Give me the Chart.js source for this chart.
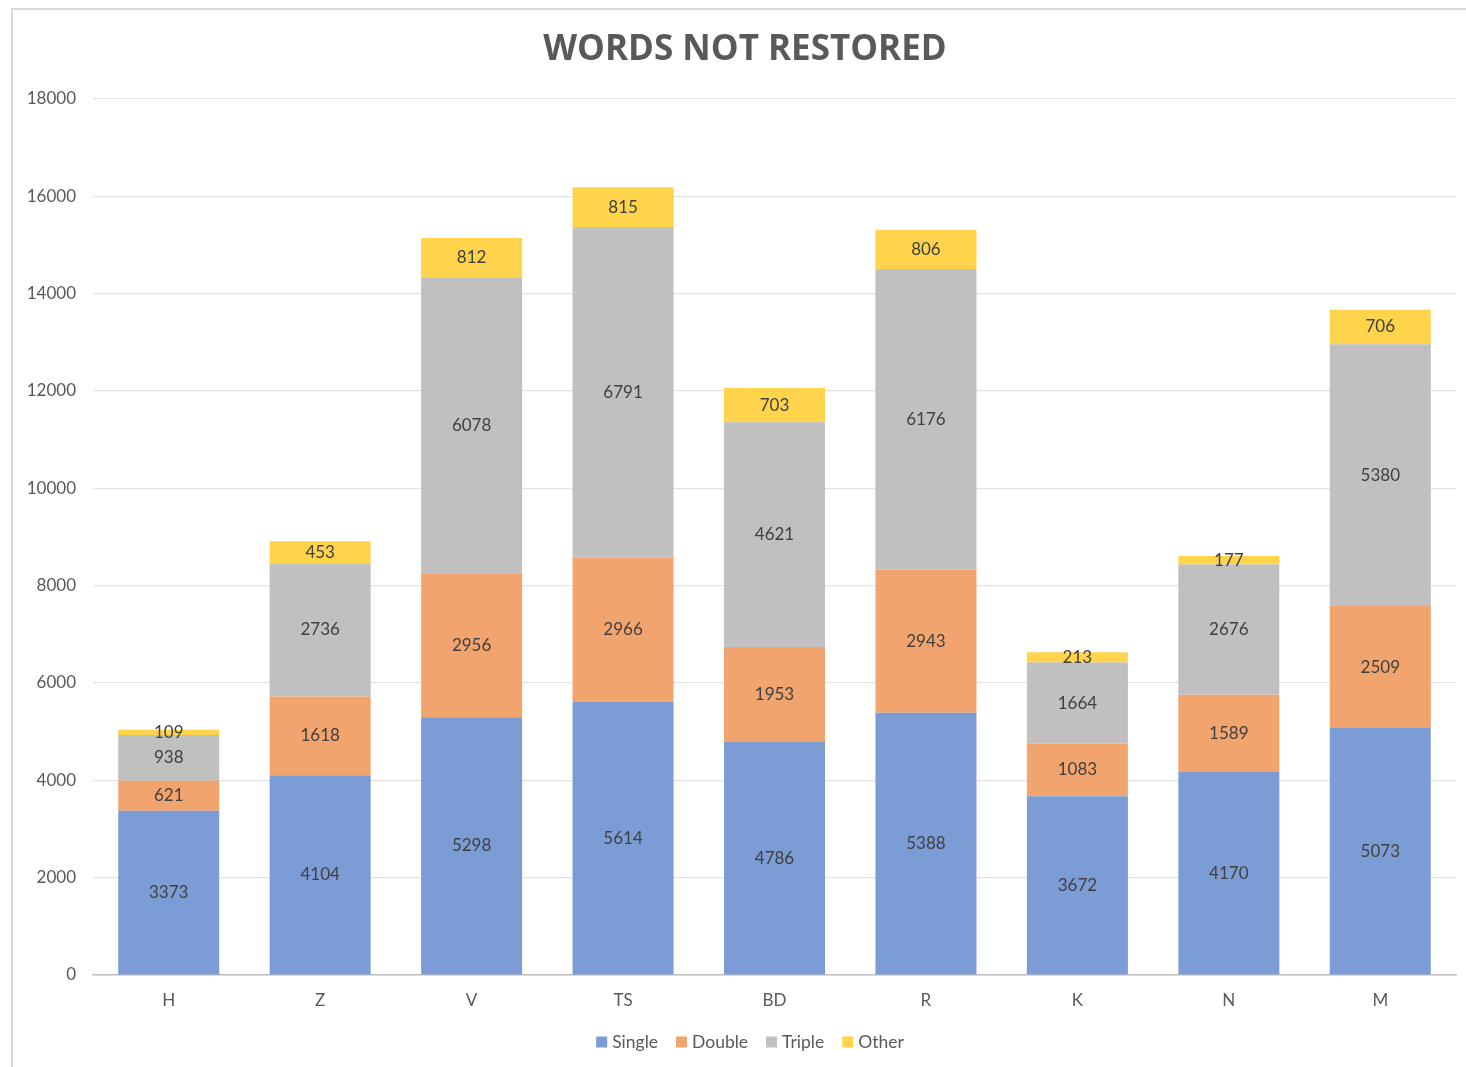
<!DOCTYPE html>
<html>
<head>
<meta charset="utf-8">
<script src="https://cdn.jsdelivr.net/npm/chart.js@4/dist/chart.umd.min.js"></script>
<style>
  html, body { margin: 0; padding: 0; background: #ffffff; overflow: hidden; }
  #wrap { position: relative; width: 1466px; height: 1067px; }
  #frame { position: absolute; left: 11px; top: 8px; width: 1500px; height: 1100px; border: 2px solid #d9d9d9; box-sizing: border-box; pointer-events: none; }
  canvas { position: absolute; left: 0; top: 0; }
</style>
</head>
<body>
<div id="wrap">
  <canvas id="c" width="1466" height="1067"></canvas>
  <div id="frame"></div>
</div>
<script>
const titleText = 'WORDS NOT RESTORED';
const categories = ['H', 'Z', 'V', 'TS', 'BD', 'R', 'K', 'N', 'M'];
const singleVals = [3373, 4104, 5298, 5614, 4786, 5388, 3672, 4170, 5073];
const doubleVals = [621, 1618, 2956, 2966, 1953, 2943, 1083, 1589, 2509];
const tripleVals = [938, 2736, 6078, 6791, 4621, 6176, 1664, 2676, 5380];
const otherVals  = [109, 453, 812, 815, 703, 806, 213, 177, 706];
const seriesNames = ['Single', 'Double', 'Triple', 'Other'];
const seriesColors = ['#7C9CD6', '#F2A46F', '#C0C0C0', '#FFD34C'];

const FONT = 'Lato, "Open Sans", "Liberation Sans", sans-serif';

const valueLabels = {
  id: 'valueLabels',
  afterDatasetsDraw(chart) {
    const ctx = chart.ctx;
    ctx.save();
    ctx.font = '17px ' + FONT;
    ctx.fillStyle = '#404040';
    ctx.textAlign = 'center';
    ctx.textBaseline = 'middle';
    chart.data.datasets.forEach((ds, i) => {
      const meta = chart.getDatasetMeta(i);
      meta.data.forEach((el, j) => {
        const p = el.getProps(['x', 'y', 'base'], true);
        ctx.fillText(String(ds.data[j]), p.x, (p.y + p.base) / 2);
      });
    });
    ctx.restore();
  }
};

const titleAndLegend = {
  id: 'titleAndLegend',
  afterDraw(chart) {
    const ctx = chart.ctx;
    ctx.save();
    ctx.font = 'bold 35px "Open Sans", ' + FONT;
    ctx.fillStyle = '#595959';
    ctx.textAlign = 'center';
    ctx.textBaseline = 'middle';
    ctx.fillText(titleText, 745, 50);

    // legend built from the datasets
    ctx.font = '17.5px ' + FONT;
    ctx.textAlign = 'left';
    const box = 11, gapText = 5, gapItem = 18;
    const items = chart.data.datasets.map(ds => ({ label: ds.label, color: ds.backgroundColor, w: ctx.measureText(ds.label).width }));
    const total = items.reduce((s, it) => s + box + gapText + it.w, 0) + gapItem * (items.length - 1);
    let x = 750 - total / 2;
    const y = 1042;
    items.forEach(it => {
      ctx.fillStyle = it.color;
      ctx.fillRect(x, y - box / 2, box, box);
      ctx.fillStyle = '#595959';
      ctx.fillText(it.label, x + box + gapText, y);
      x += box + gapText + it.w + gapItem;
    });
    ctx.restore();
  }
};

new Chart(document.getElementById('c'), {
  type: 'bar',
  data: {
    labels: categories,
    datasets: [singleVals, doubleVals, tripleVals, otherVals].map((d, i) => ({
      label: seriesNames[i],
      data: d,
      backgroundColor: seriesColors[i],
      borderWidth: 0,
      barPercentage: 0.667,
      categoryPercentage: 1.0
    }))
  },
  options: {
    responsive: false,
    animation: false,
    devicePixelRatio: 1,
    layout: { padding: { left: 0, right: 10, top: 99, bottom: 47 } },
    plugins: {
      title: { display: false },
      tooltip: { enabled: false },
      legend: { display: false }
    },
    scales: {
      x: {
        stacked: true,
        grid: { display: false, drawTicks: false },
        border: { display: true, color: '#bfbfbf', width: 1.5 },
        ticks: { color: '#595959', font: { family: FONT, size: 17 }, padding: 15 },
        afterFit(scale) { scale.height = 45; }
      },
      y: {
        stacked: true,
        min: 0,
        max: 18000,
        grid: { color: '#e3e3e3', lineWidth: 1.2, drawTicks: false },
        border: { display: false },
        ticks: { stepSize: 2000, color: '#595959', font: { family: FONT, size: 17 }, padding: 17,
                 callback: (v) => String(v) },
        afterFit(scale) { scale.width = 93; }
      }
    }
  },
  plugins: [valueLabels, titleAndLegend]
});
</script>
</body>
</html>
